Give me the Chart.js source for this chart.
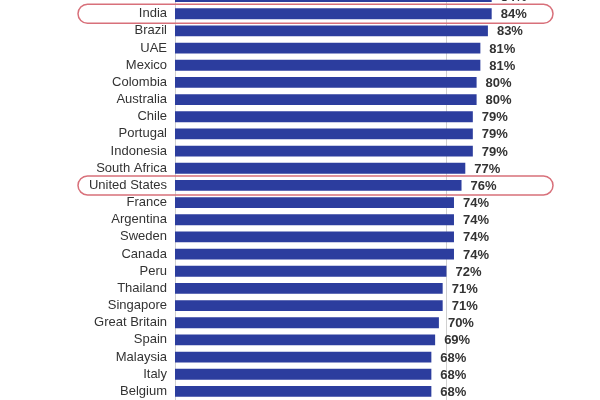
<!DOCTYPE html>
<html>
<head>
<meta charset="utf-8">
<script src="https://cdn.jsdelivr.net/npm/chart.js@4.4.0/dist/chart.umd.min.js"></script>
<style>
  html, body { margin: 0; padding: 0; background: #fff; overflow: hidden; }
  #wrap { position: absolute; left: 0; top: -12px; width: 600px; height: 412px; }
</style>
</head>
<body>
<div id="wrap"><canvas id="c"></canvas></div>
<script>
const categories = ['', 'India', 'Brazil', 'UAE', 'Mexico', 'Colombia', 'Australia', 'Chile', 'Portugal', 'Indonesia', 'South Africa', 'United States', 'France', 'Argentina', 'Sweden', 'Canada', 'Peru', 'Thailand', 'Singapore', 'Great Britain', 'Spain', 'Malaysia', 'Italy', 'Belgium'];
const values = [84, 84, 83, 81, 81, 80, 80, 79, 79, 79, 77, 76, 74, 74, 74, 74, 72, 71, 71, 70, 69, 68, 68, 68];
const highlighted = ['India', 'United States'];
const referenceLine = [72];

const FONT = '"Liberation Sans", Arial, sans-serif';

const valueLabels = {
  id: 'valueLabels',
  afterDatasetsDraw(chart) {
    const ctx = chart.ctx;
    const meta = chart.getDatasetMeta(0);
    ctx.save();
    ctx.font = 'bold 13px ' + FONT;
    ctx.fillStyle = '#333';
    ctx.textAlign = 'left';
    ctx.textBaseline = 'middle';
    meta.data.forEach((bar, i) => {
      ctx.fillText(values[i] + '%', bar.x + 9, bar.y + 1);
    });
    ctx.restore();
  }
};

const pills = {
  id: 'pills',
  afterDraw(chart) {
    const ctx = chart.ctx;
    const ys = chart.scales.y;
    ctx.save();
    ctx.strokeStyle = '#d8707a';
    ctx.lineWidth = 1.5;
    highlighted.forEach(name => {
      const idx = categories.indexOf(name);
      const y = ys.getPixelForValue(idx);
      const x0 = 78, x1 = 553, h = 19;
      ctx.beginPath();
      ctx.roundRect(x0, y - h / 2, x1 - x0, h, h / 2);
      ctx.stroke();
    });
    ctx.restore();
  }
};

new Chart(document.getElementById('c'), {
  type: 'bar',
  data: {
    labels: categories,
    datasets: [{
      data: values,
      backgroundColor: '#2c3d9e',
      borderWidth: 0,
      barPercentage: 0.63,
      categoryPercentage: 1
    }]
  },
  options: {
    indexAxis: 'y',
    responsive: true,
    maintainAspectRatio: false,
    animation: false,
    layout: { padding: { left: 0, top: 0, bottom: 0, right: 48 } },
    plugins: { legend: { display: false }, tooltip: { enabled: false } },
    scales: {
      x: {
        min: 0,
        max: 100,
        afterBuildTicks: s => { s.ticks = referenceLine.map(v => ({ value: v })); },
        afterFit: s => { s.height = 0; s.paddingLeft = 0; s.paddingRight = 0; },
        ticks: { display: false },
        grid: { color: '#d0d0d0', drawTicks: false, lineWidth: 1 },
        border: { display: false }
      },
      y: {
        afterFit: s => { s.width = 175; s.paddingTop = 0; s.paddingBottom = 0; },
        ticks: { color: '#333', font: { family: FONT, size: 13 }, padding: 8, autoSkip: false },
        grid: { display: false, drawTicks: false },
        border: { display: true, color: '#cfcfcf' }
      }
    }
  },
  plugins: [valueLabels, pills]
});
</script>
</body>
</html>
